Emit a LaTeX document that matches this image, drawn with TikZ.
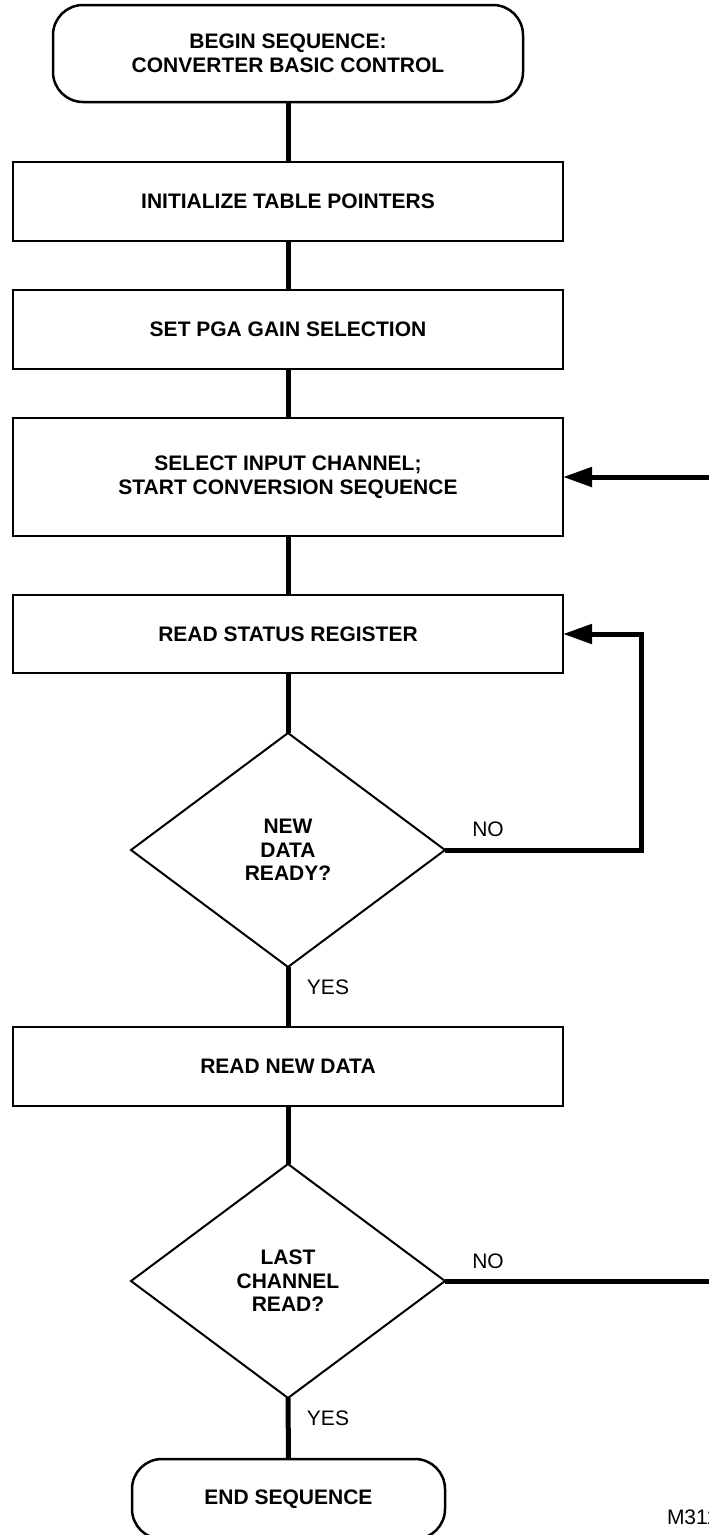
\documentclass[tikz,border=0pt]{standalone}
\usepackage{fontspec}
\setmainfont{Liberation Sans}
\usetikzlibrary{shapes.geometric,arrows.meta}

\begin{document}
\begin{tikzpicture}[x=1pt,y=-1pt,
  every node/.style={font=\fontsize{21}{23.5}\selectfont\bfseries, align=center, inner sep=0pt, outer sep=0pt},
  procbox/.style={draw, line width=2.5pt, minimum width=550pt, minimum height=79pt},
  termbox/.style={draw, line width=2.5pt, rounded corners=30pt},
  decision/.style={draw, diamond, line width=2pt, minimum width=314pt, minimum height=234pt},
  conn/.style={line width=5pt},
  feedback/.style={line width=5pt, -{Triangle[length=29pt,width=19pt]}},
  lbl/.style={font=\fontsize{21}{23.5}\selectfont}
]
\useasboundingbox (0,0) rectangle (709,1535);
\clip (0,0) rectangle (709,1535);

% process steps
\node[termbox, minimum width=470pt, minimum height=97pt] (begin) at (288,53.5) {BEGIN SEQUENCE:\\CONVERTER BASIC CONTROL};
\node[procbox] (init) at (288,201.5) {INITIALIZE TABLE POINTERS};
\node[procbox] (pga) at (288,329.5) {SET PGA GAIN SELECTION};
\node[procbox, minimum height=118pt] (sel) at (288,477) {SELECT INPUT CHANNEL;\\START CONVERSION SEQUENCE};
\node[procbox, minimum height=78pt] (status) at (288,634) {READ STATUS REGISTER};
\node[decision] (ready) at (288,850) {NEW\\DATA\\READY?};
\node[procbox] (data) at (288,1066.5) {READ NEW DATA};
\node[decision] (last) at (288,1281) {LAST\\CHANNEL\\READ?};
\node[termbox, minimum width=313pt, minimum height=80pt] (end) at (288.5,1499) {END SEQUENCE};

% branch labels
\node[lbl] (yes1) at (328,987) {YES};
\node[lbl] (no1) at (488,829) {NO};
\node[lbl] (yes2) at (328,1418) {YES};
\node[lbl] (no2) at (488,1261) {NO};
\node[lbl, anchor=west] (fig) at (667,1517) {M311};

% loop coordinates
\coordinate (waitcorner) at (641,850);
\coordinate (waittop) at (641,634);
\coordinate (nextin) at (709,477);
\coordinate (nextout) at (709,1281);

% main flow
\draw[conn] (begin.south) -- (init.north);
\draw[conn] (init.south) -- (pga.north);
\draw[conn] (pga.south) -- (sel.north);
\draw[conn] (sel.south) -- (status.north);
\draw[conn] (status.south) -- (ready.north);
\draw[conn] (ready.south) -- (data.north);
\draw[conn] (data.south) -- (last.north);
\draw[conn] (last.south) -- (end.north);

% loops
\draw[feedback] (ready.east) -- (waitcorner) -- (waittop) -- (status.east);
\draw[conn] (last.east) -- (nextout);
\draw[feedback] (nextin) -- (sel.east);
\end{tikzpicture}
\end{document}
